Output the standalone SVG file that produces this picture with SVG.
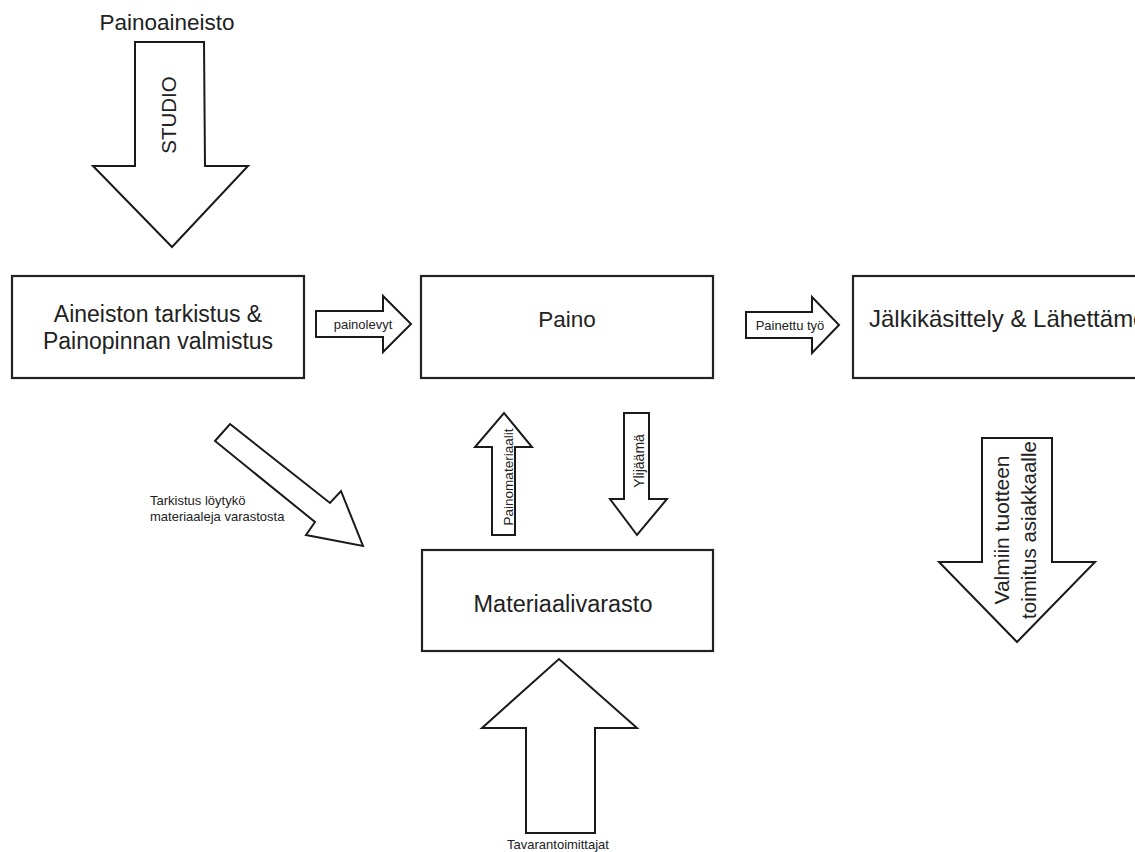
<svg xmlns="http://www.w3.org/2000/svg" width="1135" height="852" viewBox="0 0 1135 852">
<style>
.box{fill:#fff;stroke:#222;stroke-width:2.2}
.arr{fill:#fff;stroke:#1a1a1a;stroke-width:2;stroke-linejoin:miter}
.t{font-family:"Liberation Sans",Arial,sans-serif;fill:#222}
.big{font-size:23px}
.sm{font-size:13px}
</style>
<rect width="1135" height="852" fill="#fff"/>
<text class="t" font-size="22.5" x="167" y="30" text-anchor="middle">Painoaineisto</text>
<g id="connectors">
  <g id="arrow-studio">
    <polygon class="arr" points="135,42 204,42 205,166 248,166 172,247 93,166 135,166"/>
    <text class="t" font-size="20.5" text-anchor="middle" transform="translate(176,115) rotate(-90)">STUDIO</text>
  </g>
  <g id="arrow-painolevyt">
    <polygon class="arr" points="316,311 383,311 383,296 411,324 383,352 383,337 316,337"/>
    <text class="t sm" x="363" y="328.5" text-anchor="middle">painolevyt</text>
  </g>
  <g id="arrow-painettu">
    <polygon class="arr" points="746,312 812,312 812,297 839,325 812,353 812,338 746,338"/>
    <text class="t sm" x="790" y="329.5" text-anchor="middle">Painettu työ</text>
  </g>
  <g id="arrow-tarkistus">
    <polygon class="arr" points="230,424 330,503 341,491 363,546 306,535 315,522 215,441"/>
    <text class="t sm" x="150" y="505">Tarkistus löytykö</text>
    <text class="t sm" x="150" y="521">materiaaleja varastosta</text>
  </g>
  <g id="arrow-painomateriaalit">
    <polygon class="arr" points="492,535 492,447 475,447 504,413 532,447 515,447 515,535"/>
    <text class="t" font-size="13.5" text-anchor="middle" transform="translate(513,477) rotate(-90)">Painomateriaalit</text>
  </g>
  <g id="arrow-ylijaama">
    <polygon class="arr" points="624,413 649,413 649,499 667,499 637,535 610,499 624,499"/>
    <text class="t" font-size="14" text-anchor="middle" transform="translate(644,461) rotate(-90)">Ylijäämä</text>
  </g>
  <g id="arrow-valmiin">
    <polygon class="arr" points="982,438 1052,438 1052,562 1095,562 1017,642 939,562 982,562"/>
    <text class="t" font-size="21" text-anchor="middle" transform="translate(1009,530) rotate(-90)">Valmiin tuotteen</text>
    <text class="t" font-size="20.5" text-anchor="middle" transform="translate(1036,530) rotate(-90)">toimitus asiakkaalle</text>
  </g>
  <g id="arrow-tavarantoimittajat">
    <polygon class="arr" points="526,833 526,728 482,728 559,659 637,728 595,728 595,833"/>
    <text class="t sm" x="558" y="849" text-anchor="middle">Tavarantoimittajat</text>
  </g>
</g>
<g id="node-aineiston">
  <rect class="box" x="12" y="276" width="292" height="102"/>
  <text class="t big" x="158" y="322" text-anchor="middle">Aineiston tarkistus &amp;</text>
  <text class="t big" x="158" y="349" text-anchor="middle">Painopinnan valmistus</text>
</g>
<g id="node-paino">
  <rect class="box" x="421" y="276" width="292" height="102"/>
  <text class="t" font-size="22.5" x="567" y="327" text-anchor="middle">Paino</text>
</g>
<g id="node-jalkikasittely">
  <rect class="box" x="853" y="276" width="400" height="102"/>
  <text class="t" font-size="24" x="869" y="327">Jälkikäsittely &amp; Lähettämö</text>
</g>
<g id="node-materiaalivarasto">
  <rect class="box" x="422" y="550" width="291" height="101"/>
  <text class="t" font-size="23.5" x="563" y="612" text-anchor="middle">Materiaalivarasto</text>
</g>
</svg>
